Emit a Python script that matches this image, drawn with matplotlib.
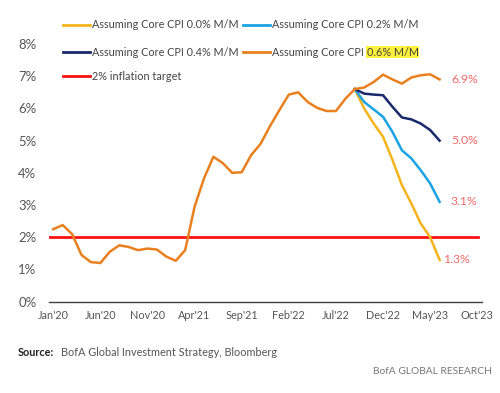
import matplotlib
matplotlib.use("Agg")
import matplotlib.pyplot as plt
from matplotlib.lines import Line2D
import numpy as np

FONT = ['Lato', 'DejaVu Sans']
plt.rcParams['font.family'] = FONT

# Monthly core CPI YoY, Jan'20 .. Sep'22 (actual)
actual = [2.25, 2.38, 2.1, 1.45, 1.23, 1.2, 1.55, 1.75, 1.7, 1.6, 1.65, 1.62,
          1.4, 1.27, 1.6, 2.95, 3.83, 4.5, 4.3, 4.0, 4.02, 4.55, 4.9, 5.45,
          5.95, 6.43, 6.5, 6.2, 6.02, 5.92, 5.92, 6.3, 6.6]
# Projections Oct'22 .. Jun'23
proj_00 = [6.0, 5.53, 5.12, 4.4, 3.62, 3.05, 2.43, 2.0, 1.3]
proj_02 = [6.2, 5.97, 5.74, 5.27, 4.7, 4.45, 4.08, 3.67, 3.1]
proj_04 = [6.46, 6.43, 6.41, 6.05, 5.72, 5.66, 5.53, 5.33, 5.0]
proj_06 = [6.65, 6.82, 7.05, 6.9, 6.77, 6.96, 7.03, 7.06, 6.9]
target = 2.0
tick_labels = ["Jan'20", "Jun'20", "Nov'20", "Apr'21", "Sep'21", "Feb'22",
               "Jul'22", "Dec'22", "May'23", "Oct'23"]
end_labels = ["1.3%", "3.1%", "5.0%", "6.9%"]

c_yellow = '#F5B31C'
c_blue = '#1CA3E3'
c_navy = '#17296B'
c_orange = '#E8801F'
c_red = '#FF1010'
c_lab = '#F26B6B'

fig = plt.figure(figsize=(5.0, 3.93), dpi=100)
ax = fig.add_axes([0.098, 0.2323, 0.866, 0.6557])
fig.canvas.draw()
renderer = fig.canvas.get_renderer()


def fit_size(txt, target_px, weight='normal'):
    t = fig.text(0, 0, txt, fontsize=10, fontweight=weight)
    w = t.get_window_extent(renderer).width
    t.remove()
    return 10 * target_px / w


xtick_fs = fit_size("Jan'20", 31)
ytick_fs = fit_size("8%", 18)
leg_fs = fit_size("Assuming Core CPI 0.0% M/M", 146)
src_fs = fit_size("BofA Global Investment Strategy, Bloomberg", 216)
res_fs = fit_size("BofA GLOBAL RESEARCH", 120)
lab_fs = fit_size("6.9%", 27)

n_act = len(actual)
x_act = np.arange(n_act)
x_proj = np.arange(n_act - 1, n_act + len(proj_00))

ax.axhline(target, xmin=0.0, xmax=0.99, color=c_red, lw=2.0, zorder=2)
ax.plot(x_proj, [actual[-1]] + proj_00, color=c_yellow, lw=1.8, zorder=3)
ax.plot(x_proj, [actual[-1]] + proj_02, color=c_blue, lw=1.8, zorder=3)
ax.plot(x_proj, [actual[-1]] + proj_04, color=c_navy, lw=1.8, zorder=3)
ax.plot(x_proj, [actual[-1]] + proj_06, color=c_orange, lw=1.8, zorder=4)
ax.plot(x_act, actual, color=c_orange, lw=1.8, zorder=4)

ends = [proj_00[-1], proj_02[-1], proj_04[-1], proj_06[-1]]
xe = x_proj[-1]
offs = [0.4, 1.2, 1.2, 1.2]
for v, lab, o in zip(ends, end_labels, offs):
    ax.text(xe + o, v, lab, color=c_lab, fontsize=lab_fs, va='center', ha='left')

ax.set_xlim(-0.45, 45.5)
ax.set_ylim(0, 8)
ax.set_xticks(np.arange(0, 46, 5))
ax.set_xticklabels(tick_labels)
ax.set_yticks(np.arange(0, 9, 1))
ax.set_yticklabels([f"{i}%" for i in range(9)])
for s in ['top', 'right', 'left']:
    ax.spines[s].set_visible(False)
ax.spines['bottom'].set_color('#404040')
ax.spines['bottom'].set_linewidth(1.0)
ax.tick_params(axis='both', length=0, colors='#555555')
ax.tick_params(axis='x', labelsize=xtick_fs, pad=6)
ax.tick_params(axis='y', labelsize=ytick_fs, pad=9)


def fx(px):
    return px / 500.0


def fy(py):
    return 1 - py / 393.0


legend_items = [
    (63, 25, c_yellow, "Assuming Core CPI 0.0% M/M", None),
    (243, 25, c_blue, "Assuming Core CPI 0.2% M/M", None),
    (63, 52, c_navy, "Assuming Core CPI 0.4% M/M", None),
    (243, 52, c_orange, "Assuming Core CPI ", "0.6% M/M"),
    (63, 76, c_red, "2% inflation target", None),
]
for px, py, col, txt, hl in legend_items:
    fig.add_artist(Line2D([fx(px), fx(px + 27)], [fy(py), fy(py)], color=col, lw=2.0))
    t = fig.text(fx(px + 29), fy(py), txt, fontsize=leg_fs, color='#444444',
                 va='center', ha='left')
    if hl:
        bb = t.get_window_extent(renderer)
        x1 = bb.x1 / fig.dpi / fig.get_figwidth()
        fig.text(x1, fy(py), hl, fontsize=leg_fs, color='#444444', va='center', ha='left',
                 bbox=dict(facecolor='#FFF23A', edgecolor='none', pad=0.5))

fig.text(fx(18), fy(353), "Source:", fontsize=src_fs, color='#222222', fontweight='bold',
         va='center', ha='left')
fig.text(fx(61), fy(353), "BofA Global Investment Strategy, Bloomberg", fontsize=src_fs,
         color='#555555', va='center', ha='left')
fig.text(fx(492), fy(371), "BofA GLOBAL RESEARCH", fontsize=res_fs, color='#777777',
         va='center', ha='right')

fig.savefig("out.png", dpi=100)
